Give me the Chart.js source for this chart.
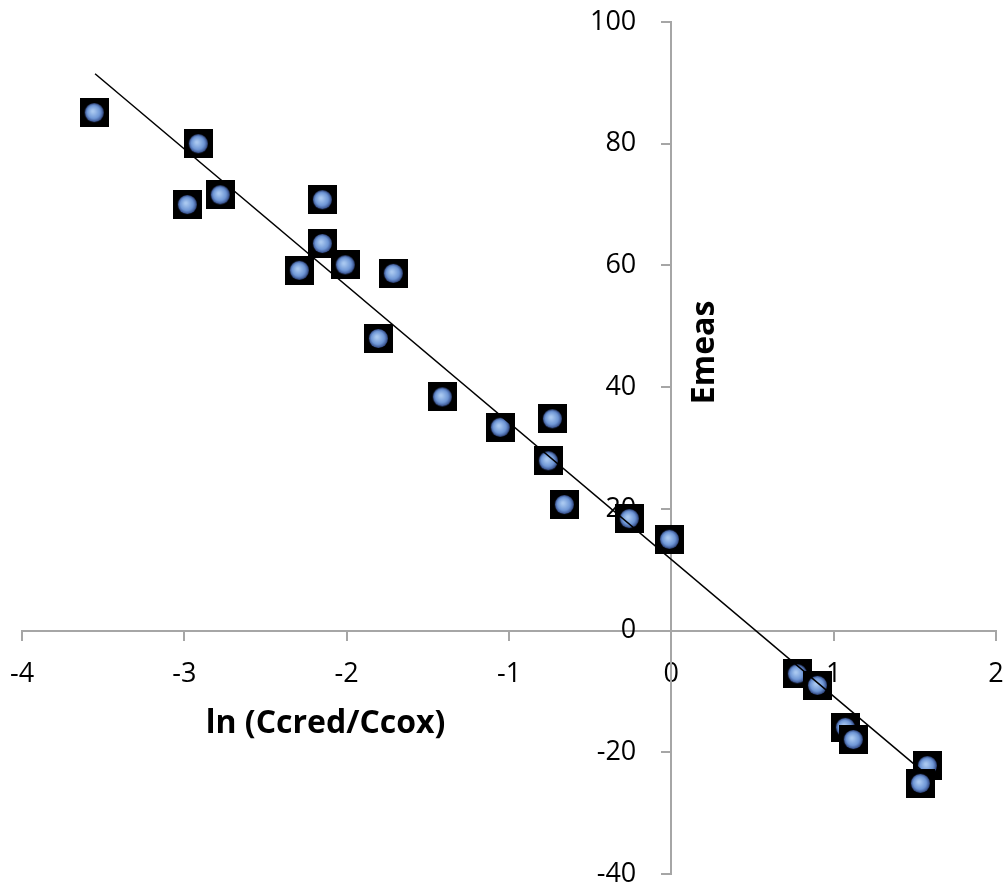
<!DOCTYPE html>
<html>
<head>
<meta charset="utf-8">
<script src="https://cdn.jsdelivr.net/npm/chart.js@4"></script>
<style>
  body { margin: 0; background: #fff; }
  #wrap { width: 1006px; height: 890px; }
</style>
</head>
<body>
<div id="wrap"><canvas id="myChart"></canvas></div>
<script>
// data
const lnRatio = [-3.555, -2.914, -2.982, -2.779, -2.150, -2.150, -2.292, -2.009, -1.713, -1.805,
                 -1.411, -1.054, -0.733, -0.758, -0.659, -0.259, -0.012, 0.776, 0.900, 1.072,
                 1.121, 1.577, 1.534];
const eMeas = [85.1, 80.0, 70.0, 71.6, 70.8, 63.6, 59.2, 60.1, 58.7, 48.0,
               38.4, 33.4, 34.8, 27.9, 20.7, 18.4, 15.0, -7.1, -9.0, -15.9,
               -17.9, -22.2, -25.1];
// trend line end points
const trendX = [-3.55, 1.565];
const trendY = [91.5, -23.5];

const xTitle = "ln (Ccred/Ccox)";
const yTitle = "Emeas";

// marker : black square with a blue ball
function makeMarker(){
	const c = document.createElement("canvas");
	c.width = 29; c.height = 29;
	const g = c.getContext("2d");
	g.fillStyle = "#000";
	g.fillRect(0, 0, 29, 29);
	const grad = g.createRadialGradient(13, 13, 1, 14.5, 14.5, 10);
	grad.addColorStop(0, "#a9c8f0");
	grad.addColorStop(0.6, "#6f97d6");
	grad.addColorStop(1, "#2a3f7a");
	g.fillStyle = grad;
	g.beginPath();
	g.arc(14.5, 14.5, 9.5, 0, Math.PI * 2);
	g.fill();
	return c;
}

const points = [];
for(let i = 0; i < lnRatio.length; i++){
	points.push({x: lnRatio[i], y: eMeas[i]});
}
const trend = [];
for(let i = 0; i < trendX.length; i++){
	trend.push({x: trendX[i], y: trendY[i]});
}

// axis titles where the original puts them
const titles = {
	id: "titles",
	afterDraw(chart){
		const ctx = chart.ctx;
		const xs = chart.scales.x, ys = chart.scales.y;
		ctx.save();
		ctx.fillStyle = "#000";
		ctx.font = "bold 32px 'Open Sans'";
		ctx.textAlign = "center";
		ctx.textBaseline = "middle";
		ctx.fillText(xTitle, xs.getPixelForValue(-2.13), ys.getPixelForValue(-15.3));
		ctx.translate(xs.getPixelForValue(0.209), ys.getPixelForValue(45.7));
		ctx.rotate(-Math.PI / 2);
		ctx.fillText(yTitle, 0, 0);
		ctx.restore();
	}
};

const ctx = document.getElementById("myChart");

new Chart(ctx, {
	type: "scatter",
	data: {
		datasets: [{
			label: "Emeas",
			data: points,
			pointStyle: makeMarker(),   // image is drawn at its own size
			pointRadius: 1,
			pointHoverRadius: 1,
			pointBorderWidth: 0,
			clip: false,
			order: 1
		}, {
			type: "line",
			label: "trend",
			data: trend,
			showLine: true,
			borderColor: "#000",
			borderWidth: 1.5,
			pointRadius: 0,
			fill: false,
			order: 0
		}]
	},
	plugins: [titles],
	options: {
		responsive: true,
		maintainAspectRatio: false,
		animation: false,
		events: [],
		layout: { padding: { left: 22, top: 22, right: 10, bottom: 16 } },
		plugins: {
			legend: { display: false },
			tooltip: { enabled: false }
		},
		scales: {
			x: {
				type: "linear",
				position: { y: 0 },
				min: -4, max: 2,
				ticks: {
					stepSize: 1,
					padding: 1,
					color: "#000",
					font: { family: "'Open Sans'", size: 27, lineHeight: 2.5 }
				},
				grid: { drawOnChartArea: false, drawTicks: true, tickLength: 9, color: "#a6a6a6", lineWidth: 2 },
				border: { color: "#a6a6a6", width: 2 }
			},
			y: {
				type: "linear",
				position: { x: 0 },
				min: -40, max: 100,
				ticks: {
					stepSize: 20,
					padding: 0,
					color: "#000",
					font: { family: "'Open Sans'", size: 27, lineHeight: 0.8 },
					callback: function(v){ return v + "     "; }
				},
				grid: { drawOnChartArea: false, drawTicks: true, tickLength: 9, color: "#a6a6a6", lineWidth: 2 },
				border: { color: "#a6a6a6", width: 2 }
			}
		}
	}
});
</script>
</body>
</html>
